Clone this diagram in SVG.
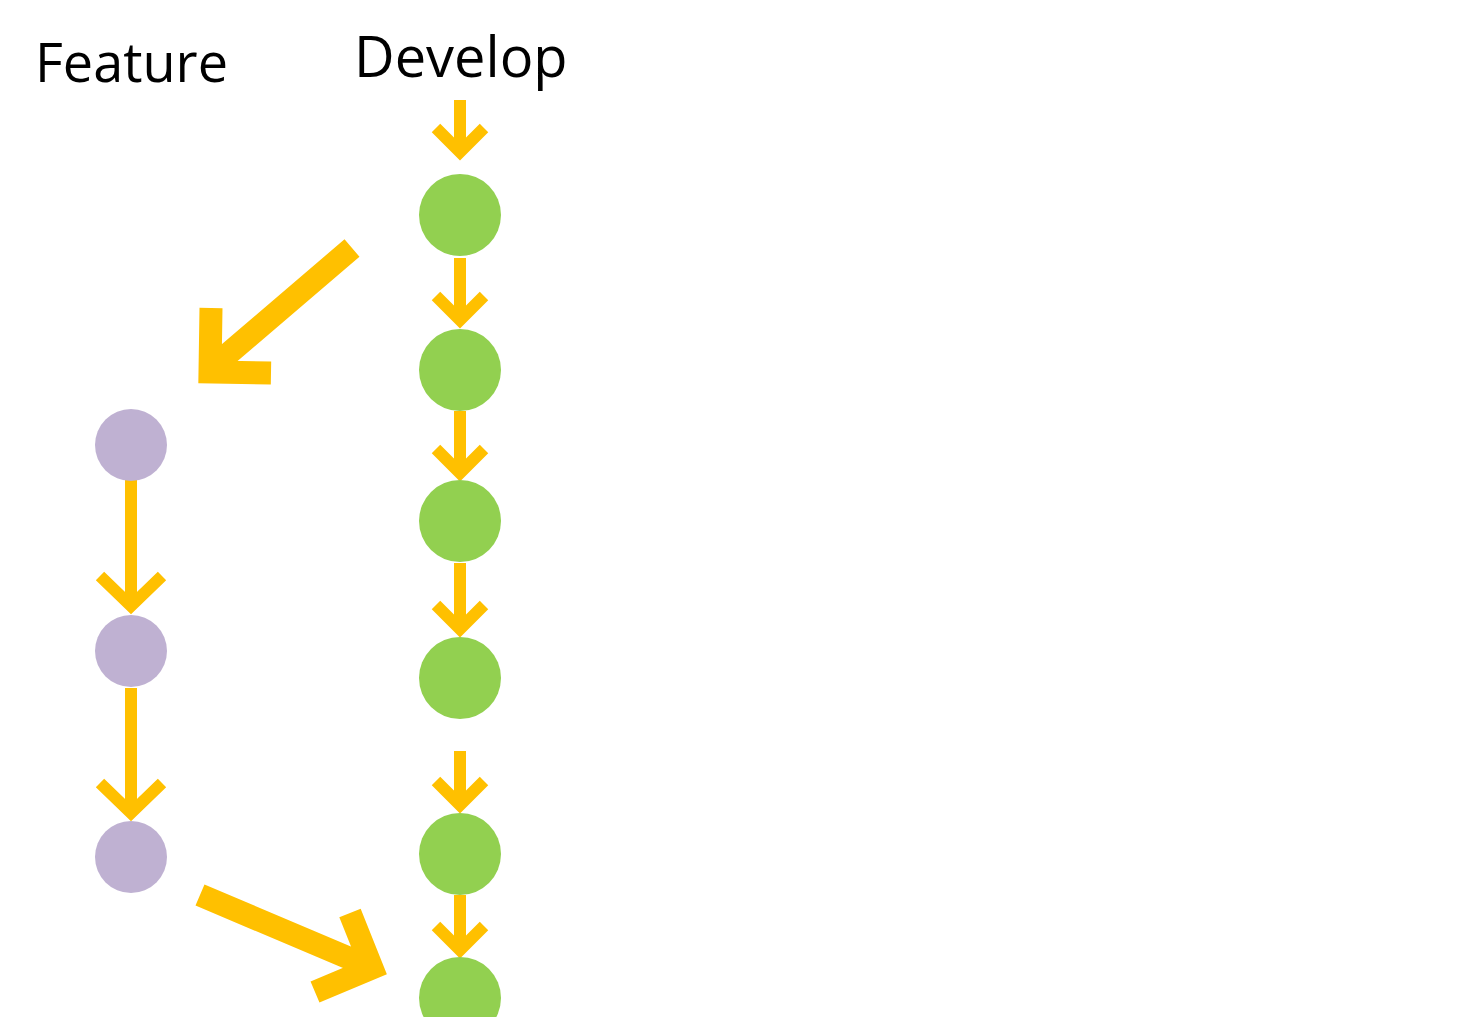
<svg xmlns="http://www.w3.org/2000/svg" width="1466" height="1017" viewBox="0 0 1466 1017">
<defs>
<style>
.lbl{font-family:"Open Sans","Noto Sans",sans-serif;font-size:54px;fill:#000}
.dev{fill:#92d050}
.fea{fill:#bfb1d2}
.sm{stroke:#ffc000;stroke-width:12;fill:none;stroke-linecap:butt;stroke-linejoin:miter}
.big{stroke:#ffc000;stroke-width:23;fill:none;stroke-linecap:butt;stroke-linejoin:miter}
</style>
</defs>
<rect width="1466" height="1017" fill="#fff"/>
<text class="lbl" x="35" y="82">Feature</text>
<text class="lbl" x="354" y="77" style="font-size:56px">Develop</text>
<g id="connectors">
<path class="sm" d="M460 100V152M436 128L460 152L484 128"/>
<path class="sm" d="M460 258V320M436 296L460 320L484 296"/>
<path class="sm" d="M460 411V473M436 449L460 473L484 449"/>
<path class="sm" d="M460 563V629M436 605L460 629L484 605"/>
<path class="sm" d="M460 751V805M436 781L460 805L484 781"/>
<path class="sm" d="M460 895V950M436 926L460 950L484 926"/>
<path class="sm" d="M131 480V606M100 576L131 606L162 576"/>
<path class="sm" d="M131 688V813M100 783L131 813L162 783"/>
<path class="big" d="M352 248L214 366M211 308L210 372L271 373"/>
<path class="big" d="M200 895L370 967M350 913L372 968L315 992"/>
</g>
<g id="d1"><circle class="dev" cx="460" cy="215" r="41"/></g>
<g id="d2"><circle class="dev" cx="460" cy="370" r="41"/></g>
<g id="d3"><circle class="dev" cx="460" cy="521" r="41"/></g>
<g id="d4"><circle class="dev" cx="460" cy="678" r="41"/></g>
<g id="d5"><circle class="dev" cx="460" cy="854" r="41"/></g>
<g id="d6"><circle class="dev" cx="460" cy="998" r="41"/></g>
<g id="f1"><circle class="fea" cx="131" cy="445" r="36"/></g>
<g id="f2"><circle class="fea" cx="131" cy="651" r="36"/></g>
<g id="f3"><circle class="fea" cx="131" cy="857" r="36"/></g>
</svg>
